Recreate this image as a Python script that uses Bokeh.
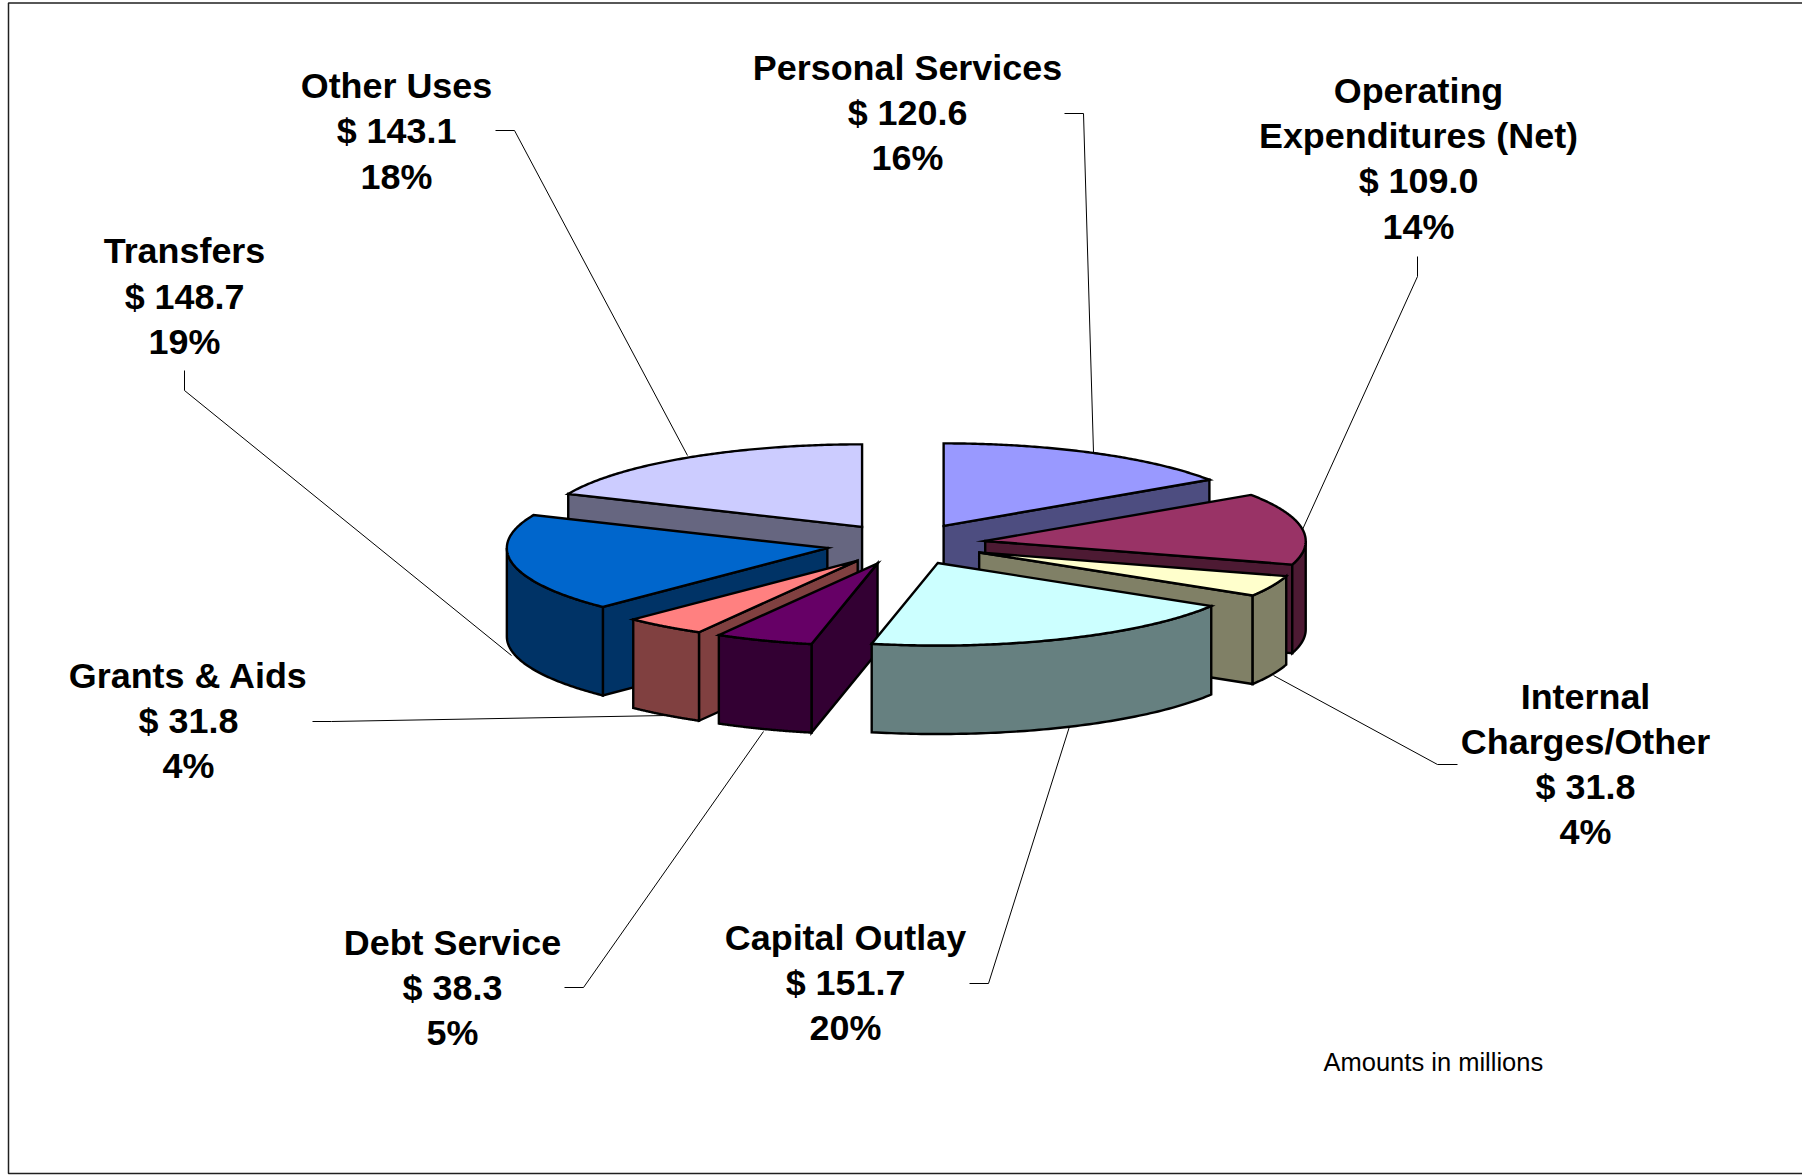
import numpy as np
from bokeh.core.properties import value
from bokeh.embed import file_html
from bokeh.models import Range1d
from bokeh.plotting import figure
from bokeh.resources import INLINE

# Budget uses, in millions, clockwise from twelve o'clock
categories = ["Personal Services", "Operating\nExpenditures (Net)", "Internal\nCharges/Other",
              "Capital Outlay", "Debt Service", "Grants & Aids", "Transfers", "Other Uses"]
amounts = [120.6, 109.0, 31.8, 151.7, 38.3, 31.8, 148.7, 143.1]
percents = [16, 14, 4, 20, 5, 4, 19, 18]

top_colors = ["#9999FF", "#993366", "#FFFFCC", "#CCFFFF", "#660066", "#FF8080", "#0066CC", "#CCCCFF"]
side_colors = ["#4D4D80", "#4D1A33", "#808066", "#668080", "#330033", "#804040", "#003366", "#666680"]

# Label placement: centre x and the y of each text line
label_x = [907, 1418, 1585, 845, 452, 188, 184, 396]
label_y = [[67, 112, 157], [90, 135, 180, 226], [696, 741, 786, 831], [937, 982, 1027],
           [942, 987, 1032], [675, 720, 765], [250, 296, 341], [85, 130, 176]]

# Elbowed callouts from each label to its slice
leader_x = [[1064, 1083, 1093], [1417, 1417, 1302], [1457, 1437, 1273], [969, 988, 1069],
            [564, 583, 763], [312, 331, 666], [184, 184, 511], [495, 514, 687]]
leader_y = [[113, 113, 452], [256, 276, 529], [764, 764, 675], [983, 983, 726],
            [987, 987, 731], [721, 721, 715], [370, 390, 655], [130, 130, 455]]

# Oblique pie geometry, in page pixels
CX, CY = 905.5, 543.6
RX, RY = 320.5, 82.5
DEPTH = 88.5
EXPLODE = 0.25
# Painter's order, back to front
draw_order = [7, 0, 6, 1, 5, 2, 4, 3]

p = figure(width=1802, height=1176, output_backend="svg", toolbar_location=None,
           x_range=Range1d(0, 1802), y_range=Range1d(1176, 0),
           min_border=0, outline_line_color=None, background_fill_color="white")
p.axis.visible = False
p.grid.visible = False

# Page frame, open on the right
p.line([1802, 8, 8, 1802], [2.5, 2.5, 1173, 1173], line_color="#202020", line_width=1.5)

for lx, ly in zip(leader_x, leader_y):
    p.line(lx, ly, line_color="black", line_width=1)

total = sum(amounts)
edges = np.concatenate([[0.0], np.cumsum(amounts)]) / total * 2 * np.pi


def project(angle):
    return RX * np.sin(angle), -RY * np.cos(angle)


def face(xs, ys, color):
    p.patch(list(xs), list(ys), fill_color=color, line_color="black", line_width=2.4,
            line_join="miter")


for i in draw_order:
    start, end = edges[i], edges[i + 1]
    mid = (start + end) / 2
    ax = CX + EXPLODE * RX * np.sin(mid)
    ay = CY - EXPLODE * RY * np.cos(mid)

    # Cut faces that turn toward the viewer
    if np.sin(start) < -1e-6:
        sx, sy = project(start)
        face([ax, ax + sx, ax + sx, ax], [ay, ay + sy, ay + sy + DEPTH, ay + DEPTH], side_colors[i])
    if np.sin(end) > 1e-6:
        ex, ey = project(end)
        face([ax, ax + ex, ax + ex, ax], [ay, ay + ey, ay + ey + DEPTH, ay + DEPTH], side_colors[i])

    # Outer rim, only over the front half of the ellipse
    lo, hi = max(start, np.pi / 2), min(end, 3 * np.pi / 2)
    if hi > lo:
        t = np.linspace(lo, hi, 80)
        rx, ry = project(t)
        face(np.r_[ax + rx, (ax + rx)[::-1]], np.r_[ay + ry, (ay + ry)[::-1] + DEPTH], side_colors[i])

    # Top face
    t = np.linspace(start, end, 120)
    tx, ty = project(t)
    face(np.r_[ax, ax + tx], np.r_[ay, ay + ty], top_colors[i])

# Category, amount and share labels
for name, amount, pct, x, ys in zip(categories, amounts, percents, label_x, label_y):
    lines = name.split("\n") + [f"$ {amount:.1f}", f"{pct}%"]
    p.text([x] * len(lines), ys, text=lines, text_font=value("Liberation Sans"),
           text_font_style="bold", text_font_size="35.9px", text_color="black",
           text_align="center", text_baseline="middle")

p.text([1323], [1061], text=["Amounts in millions"], text_font=value("Liberation Sans"),
       text_font_size="25.5px", text_color="black", text_align="left", text_baseline="middle")

open("out.html", "w").write(file_html(p, INLINE))
